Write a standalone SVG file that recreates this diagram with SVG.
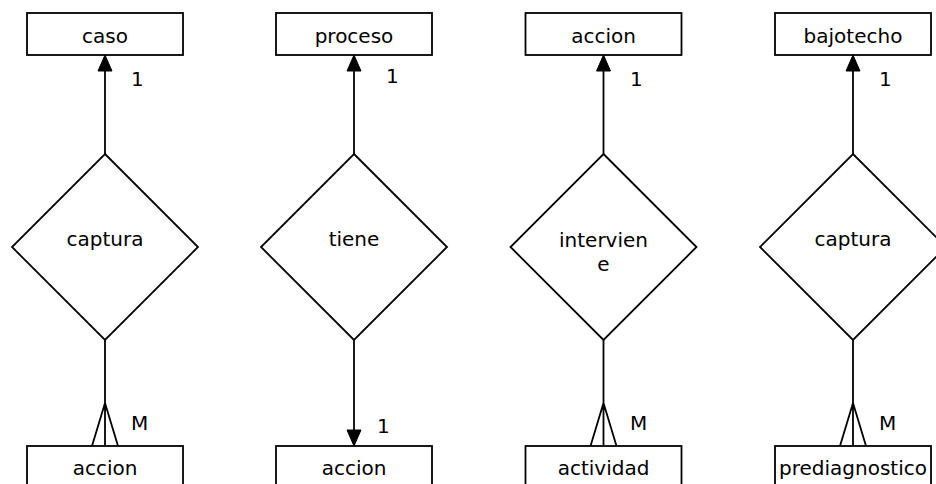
<svg xmlns="http://www.w3.org/2000/svg" width="936" height="484" viewBox="0 0 936 484">
<style>
.box{fill:#fff;stroke:#000;stroke-width:1.8}
.dia{fill:#fff;stroke:#000;stroke-width:1.8}
.ln{fill:none;stroke:#000;stroke-width:1.8}
.ah{fill:#000;stroke:#000;stroke-width:1}
text{font-family:"DejaVu Sans",Verdana,sans-serif;font-size:20px;fill:#000}
.c{text-anchor:middle}
</style>
<rect width="936" height="484" fill="#fff"/>
<g id="connectors">
  <path class="ln" d="M105 154 V60"/>
  <path class="ah" d="M105 55 L98 71 L112 71 Z"/>
  <path class="ln" d="M105 340 V446 M105 403 L92 446 M105 403 L118 446"/>
  <path class="ln" d="M354 154 V60"/>
  <path class="ah" d="M354 55 L347 71 L361 71 Z"/>
  <path class="ln" d="M354 340 V440"/>
  <path class="ah" d="M354 446 L347 430 L361 430 Z"/>
  <path class="ln" d="M603.5 154 V60"/>
  <path class="ah" d="M603.5 55 L596.5 71 L610.5 71 Z"/>
  <path class="ln" d="M603.5 340 V446 M603.5 403 L590.5 446 M603.5 403 L616.5 446"/>
  <path class="ln" d="M853 154 V60"/>
  <path class="ah" d="M853 55 L846 71 L860 71 Z"/>
  <path class="ln" d="M853 340 V446 M853 403 L840 446 M853 403 L866 446"/>
  <text x="131" y="86">1</text>
  <text x="131" y="430">M</text>
  <text x="386" y="83">1</text>
  <text x="377" y="433">1</text>
  <text x="630" y="86">1</text>
  <text x="630" y="430">M</text>
  <text x="879" y="86">1</text>
  <text x="879" y="430">M</text>
</g>
<g id="caso"><rect class="box" x="27" y="13" width="156" height="42"/><text class="c" x="105" y="43">caso</text></g>
<g id="proceso"><rect class="box" x="276" y="13" width="156" height="42"/><text class="c" x="354" y="43">proceso</text></g>
<g id="accion_top"><rect class="box" x="525.5" y="13" width="156" height="42"/><text class="c" x="603.5" y="43">accion</text></g>
<g id="bajotecho"><rect class="box" x="775" y="13" width="156" height="42"/><text class="c" x="853" y="43">bajotecho</text></g>
<g id="captura1"><polygon class="dia" points="105,154 198,247 105,340 12,247"/><text class="c" x="105" y="246">captura</text></g>
<g id="tiene"><polygon class="dia" points="354,154 447,247 354,340 261,247"/><text class="c" x="354" y="246">tiene</text></g>
<g id="interviene"><polygon class="dia" points="603.5,154 696.5,247 603.5,340 510.5,247"/><text class="c" x="603.5" y="247">intervien</text><text class="c" x="603.5" y="271">e</text></g>
<g id="captura2"><polygon class="dia" points="853,154 946,247 853,340 760,247"/><text class="c" x="853" y="246">captura</text></g>
<g id="accion1"><rect class="box" x="27" y="446" width="156" height="42"/><text class="c" x="105" y="475">accion</text></g>
<g id="accion2"><rect class="box" x="276" y="446" width="156" height="42"/><text class="c" x="354" y="475">accion</text></g>
<g id="actividad"><rect class="box" x="525.5" y="446" width="156" height="42"/><text class="c" x="603.5" y="475">actividad</text></g>
<g id="prediagnostico"><rect class="box" x="775" y="446" width="156" height="42"/><text class="c" x="853" y="475">prediagnostico</text></g>
</svg>
